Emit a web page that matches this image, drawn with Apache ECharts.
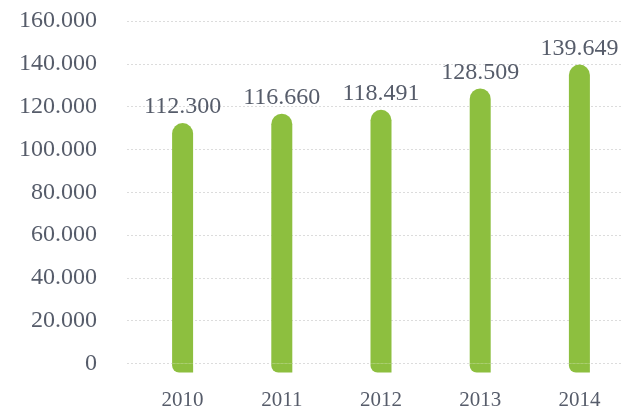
<!DOCTYPE html>
<html>
<head>
<meta charset="utf-8">
<script src="https://cdn.jsdelivr.net/npm/echarts@6/dist/echarts.min.js"></script>
<style>html,body{margin:0;padding:0;background:#fff}#c{width:621px;height:408px}</style>
</head>
<body>
<div id="c"></div>
<script>
const categories = ['2010', '2011', '2012', '2013', '2014'];
const values = [112300, 116660, 118491, 128509, 139649];
const yMin = 0, yMax = 160000, yStep = 20000;

// visual foot of each bar drawn below the zero line (style, not data)
const FOOT = -4204;

function fmt(v) {
  return String(v).replace(/\B(?=(\d{3})+(?!\d))/g, '.');
}
const FONT = '"Liberation Serif", serif';
const TXT = '#565c6a';
const GREEN = '#8dbf3f';

const chart = echarts.init(document.getElementById('c'), null, {renderer: 'canvas'});
chart.setOption({
  animation: false,
  grid: [
    {left: 127, right: 0, top: 21, bottom: 44.5, outerBoundsMode: 'none', containLabel: false},
    {left: 133, right: -8, top: 21, bottom: 35.5, outerBoundsMode: 'none', containLabel: false}
  ],
  xAxis: [
    {gridIndex: 0, type: 'category', data: categories, show: false},
    {
      gridIndex: 1, type: 'category', data: categories,
      axisLine: {show: false}, axisTick: {show: false},
      axisLabel: {color: TXT, fontFamily: FONT, fontSize: 21, margin: 17}
    }
  ],
  yAxis: [
    {
      gridIndex: 0, type: 'value', min: yMin, max: yMax, interval: yStep,
      axisLine: {show: false}, axisTick: {show: false},
      axisLabel: {color: TXT, fontFamily: FONT, fontSize: 24, margin: 30, formatter: fmt},
      splitLine: {lineStyle: {color: '#dcdcdc', type: [2, 2], width: 1}}
    },
    {
      gridIndex: 1, type: 'value', min: FOOT, max: yMax, show: false,
      splitLine: {show: false}
    }
  ],
  series: [
    {
      type: 'bar', stack: 'b',
      xAxisIndex: 1, yAxisIndex: 1,
      data: values,
      barWidth: 21,
      itemStyle: {color: GREEN, borderRadius: [10.5, 10.5, 0, 0]},
      label: {
        show: true, position: 'top', distance: 4,
        color: TXT, fontFamily: FONT, fontSize: 24,
        formatter: p => fmt(p.value)
      }
    },
    {
      type: 'bar', stack: 'b',
      xAxisIndex: 1, yAxisIndex: 1,
      data: categories.map(() => FOOT),
      barWidth: 21,
      silent: true,
      itemStyle: {color: GREEN, borderRadius: [0, 0, 0, 7]}
    }
  ]
});
</script>
</body>
</html>
